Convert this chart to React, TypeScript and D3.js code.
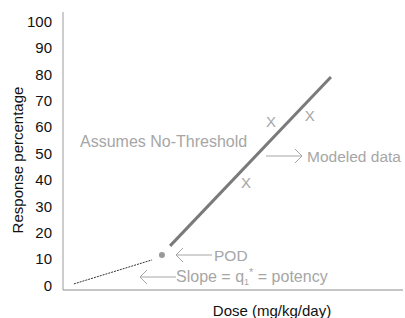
import React from "react";
import * as d3 from "d3";

const yTicks = [0, 10, 20, 30, 40, 50, 60, 70, 80, 90, 100];
const modelLine = [
  { dose: 3.15, resp: 15.0 },
  { dose: 7.88, resp: 79.0 },
];
const lowDoseLine = [
  { dose: 0.32, resp: 0.6 },
  { dose: 2.62, resp: 9.7 },
];
const pod = { dose: 2.91, resp: 11.6 };
const observed = [
  { dose: 5.38, resp: 38.8 },
  { dose: 6.12, resp: 61.9 },
  { dose: 7.26, resp: 64.5 },
];

const W = 405;
const H = 318;
const FONT = "Liberation Sans, Arial, Helvetica, sans-serif";
const GRAY = "#a6a6a6";

function ArrowLeft({ x1, x2, y }: { x1: number; x2: number; y: number }) {
  const h = 7;
  return (
    <g stroke={GRAY} strokeWidth={1} fill="none">
      <line x1={x1} y1={y} x2={x2} y2={y} />
      <path d={`M${x1 + h},${y - h} L${x1},${y} L${x1 + h},${y + h}`} />
    </g>
  );
}
function ArrowRight({ x1, x2, y }: { x1: number; x2: number; y: number }) {
  const h = 7;
  return (
    <g stroke={GRAY} strokeWidth={1} fill="none">
      <line x1={x1} y1={y} x2={x2} y2={y} />
      <path d={`M${x2 - h},${y - h} L${x2},${y} L${x2 - h},${y + h}`} />
    </g>
  );
}

export default function App() {
  const x = d3.scaleLinear().domain([0, 10]).range([63, 403]);
  const y = d3.scaleLinear().domain([0, 100]).range([285.5, 21.5]);
  const line = d3
    .line<{ dose: number; resp: number }>()
    .x((d) => x(d.dose))
    .y((d) => y(d.resp));

  return (
    <svg
      width={W}
      height={H}
      style={{ position: "absolute", left: 0, top: 0, background: "#fff" }}
      fontFamily={FONT}
    >
      <line x1={63} y1={12} x2={63} y2={290} stroke="#bdbdbd" strokeWidth={1.5} />
      <line x1={63} y1={290} x2={403} y2={290} stroke="#8c8c8c" strokeWidth={1.2} />

      {yTicks.map((t) => (
        <text key={t} x={52} y={y(t)} dy="0.35em" textAnchor="end" fontSize={15} fill="#111">
          {t}
        </text>
      ))}

      <text transform={`translate(23,160) rotate(-90)`} textAnchor="middle" fontSize={15} fill="#111">
        Response percentage
      </text>
      <text x={272} y={316} textAnchor="middle" fontSize={15} fill="#111">
        Dose (mg/kg/day)
      </text>

      <path d={line(lowDoseLine) || ""} stroke="#333" strokeWidth={1} strokeDasharray="2,1" fill="none" />
      <path d={line(modelLine) || ""} stroke="#7a7a7a" strokeWidth={3} fill="none" />

      <circle cx={x(pod.dose)} cy={y(pod.resp)} r={3} fill="#999" />

      {observed.map((d, i) => (
        <text key={i} x={x(d.dose)} y={y(d.resp)} dy="0.36em" textAnchor="middle" fontSize={15} fill={GRAY}>
          X
        </text>
      ))}

      <text x={80} y={147} fontSize={16} fill={GRAY}>
        Assumes No-Threshold
      </text>
      <ArrowRight x1={266} x2={302} y={156} />
      <text x={307} y={162} fontSize={15.5} fill={GRAY}>
        Modeled data
      </text>
      <ArrowLeft x1={176} x2={212} y={255} />
      <text x={214} y={261} fontSize={15.5} fill={GRAY}>
        POD
      </text>
      <ArrowLeft x1={140} x2={176} y={277} />
      <text x={176} y={282} fontSize={16} fill={GRAY}>
        Slope = q
        <tspan fontSize={9} dy={3}>1</tspan>
        <tspan fontSize={11} dy={-9}>*</tspan>
        <tspan dy={6}> = potency</tspan>
      </text>
    </svg>
  );
}
